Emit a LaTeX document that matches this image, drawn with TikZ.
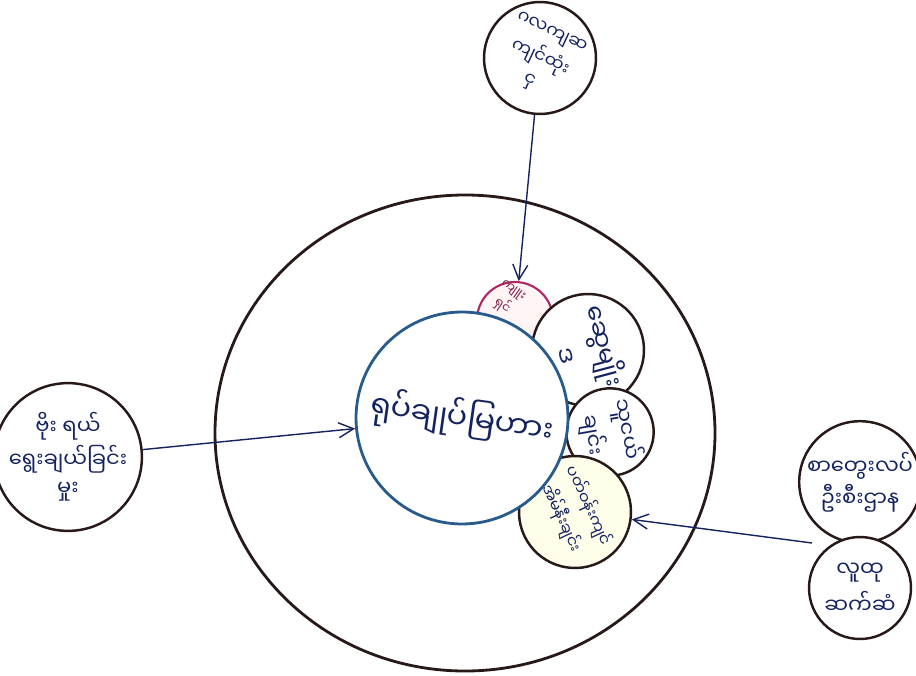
\documentclass[tikz,border=0pt]{standalone}
\usepackage{fontspec}
\newfontfamily\mmfont[Script=Myanmar]{Noto Sans Myanmar UI}
\usetikzlibrary{arrows.meta}
\definecolor{ink}{RGB}{20,35,95}
\definecolor{rim}{RGB}{40,25,25}
\definecolor{bluerim}{RGB}{40,90,140}
\definecolor{pinkrim}{RGB}{175,40,100}
\begin{document}
\begin{tikzpicture}
      [
        x=0.02cm, y=-0.02cm, very thick,
        every node/.style={circle, draw=rim, fill=white, font=\mmfont\large, text=ink, align=center, inner sep=0pt},
        ring/.style={line width=1.4pt},
        word/.style={draw=none, fill=none},
        link/.style={draw=ink, thick, -{Straight Barb[length=3mm,width=3mm]}}
      ]
      \useasboundingbox (0,0) rectangle (916,676);
      % outer ring
      \draw[rim, line width=1.6pt] (465,433) ellipse [x radius=250, y radius=238];
      % small circles round the middle one
      \node[draw=pinkrim, fill=pink!15, minimum size=1.52cm] (tuition) at (515,320) {};
      \node[ring, minimum size=2.24cm, font=\mmfont\Large, rotate=-75] (family) at (588,350) {ဆွေမျိုး\\[4pt]ဒ};
      \node[ring, minimum size=1.6cm, rotate=-80] (friends) at (610,432) {သူငယ်\\[3pt]ချင်း};
      \node[ring, fill=yellow!8, minimum size=2.24cm, font=\mmfont\small, rotate=-65] (street) at (575,512) {ပတ်ဝန်းကျင်\\[4pt]အိမ်နီးချင်း};
      % the child
      \node[draw=bluerim, line width=1.6pt, minimum size=4.24cm, font=\mmfont\LARGE, rotate=-8] (child) at (462,418) {ရုပ်ချုပ်မြဟား};
      \node[word, font=\mmfont\scriptsize, text=pinkrim!70!black, rotate=-35] (tuitiontext) at (507,299) {ကျူး\\[1pt]ရှင်};
      % outside circles
      \node[ring, minimum size=2.24cm, font=\mmfont, rotate=-25] (culture) at (540,58) {ဂလကျဆ\\[2pt]ကျင်ထုံး\\[2pt]ငှ};
      \node[ring, minimum size=2.48cm] (parents) at (68,457) {ဗိုး ရယ်\\[2pt]ရွေးချယ်ခြင်း\\[2pt]မှုး};
      \node[ring, minimum size=2.08cm] (office) at (860,482) {စာတွေးလပ်\\[2pt]ဦးစီးဌာန};
      \node[ring, minimum size=2.04cm] (people) at (860,588) {လူထု\\[4pt]ဆက်ဆံ};
      \coordinate (meet) at (812,543);
      % arrows
      \draw[link] (culture) -- (tuition);
      \draw[link] (parents) -- (child);
      \draw[link] (meet) -- (street);
\end{tikzpicture}
\end{document}
